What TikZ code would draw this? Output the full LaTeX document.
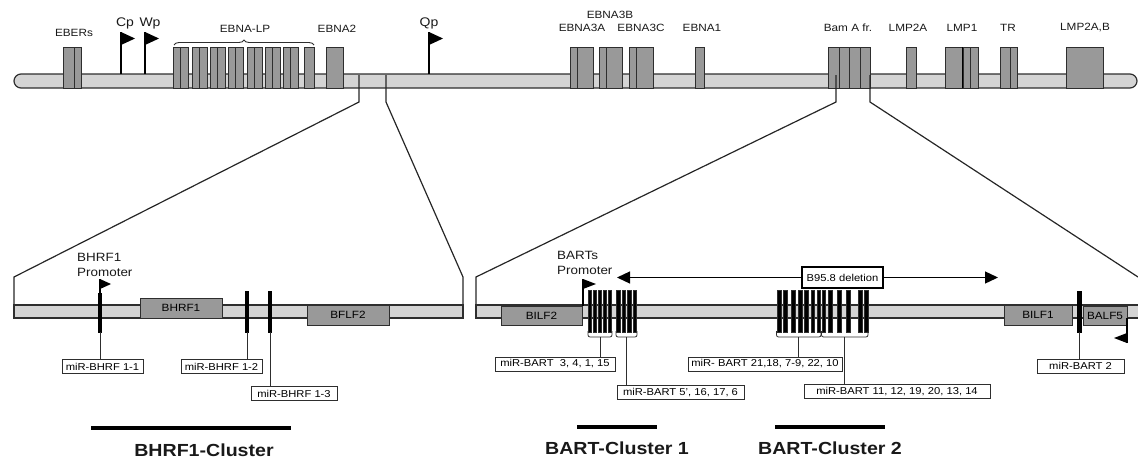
\documentclass[tikz,border=0pt]{standalone}
\usepackage{fontspec}
\setmainfont{Liberation Sans}[FakeStretch=1.12]
\usetikzlibrary{arrows.meta, decorations.pathreplacing}
\definecolor{edgegray}{gray}{0.18}
\definecolor{barfill}{gray}{0.83}
\definecolor{genefill}{gray}{0.6}
\tikzset{
  chrom/.style    = {draw=edgegray, fill=barfill, line width=1.2pt},
  gene/.style     = {draw=edgegray, fill=genefill, line width=1pt},
  genebox/.style  = {gene, inner sep=0pt, font=\fontsize{10.5}{12}\selectfont},
  toplab/.style   = {font=\fontsize{10.5}{12}\selectfont, inner sep=0pt, text=black!90},
  flaglab/.style  = {font=\fontsize{12.5}{14}\selectfont, inner sep=0pt, text=black!90},
  prolab/.style   = {font=\fontsize{12}{15}\selectfont, align=left, anchor=west,
                     inner sep=0pt, text=black!90},
  zoomln/.style   = {draw=black!85, line width=1.2pt},
  flagpole/.style = {draw=black, line width=1.1pt},
  mirna/.style    = {fill=black, draw=black, inner sep=0pt, minimum width=3pt},
  bart/.style     = {fill=black, draw=edgegray, line width=0.4pt},
  stem/.style     = {draw=edgegray, line width=0.8pt},
  bracketln/.style= {draw=edgegray, line width=0.8pt, rounded corners=2pt},
  mirbox/.style   = {draw=edgegray, fill=white, line width=1pt, inner sep=1pt,
                     minimum height=14pt, font=\fontsize{10}{12}\selectfont},
  delbox/.style   = {draw=black, line width=1.4pt, inner sep=2pt, minimum height=21pt,
                     font=\fontsize{10}{12}\selectfont},
  dl/.style       = {-{Triangle[length=13pt, width=12pt]}, line width=1.3pt},
  clus/.style     = {line width=4pt},
  clab/.style     = {font=\fontsize{17.5}{20}\selectfont\bfseries, inner sep=0pt, text=black!90},
}

\begin{document}
\begin{tikzpicture}[x=1pt, y=-1pt]
\useasboundingbox (0,0) rectangle (1138,459);

% genome overview
\draw[chrom, rounded corners=7pt] (14,74) rectangle (1137,88);
\foreach \a/\b in {63/74, 74/81, 304/314, 326/343, 570/577, 577/593, 599/606, 606/622,
    629/636, 636/653, 695/704, 828/839, 839/849, 849/860, 860/870, 906/916,
    945/962, 963/970, 970/978, 1000/1010, 1010/1017, 1066/1103}
  \draw[gene] (\a,47) rectangle (\b,88);
\foreach \s in {173,192,210,228,247,265,283}
  \draw[gene] (\s,47) rectangle (\s+7,88) (\s+7,47) rectangle (\s+15,88);
\draw[line width=1.6pt] (962.5,47) -- (962.5,88);
\draw[edgegray, line width=0.9pt, decorate, decoration={brace, amplitude=5pt}]
  (174,45) -- (314,45);
\foreach \x in {121,145,429} {
  \draw[flagpole] (\x,74) -- (\x,32);
  \fill (\x,32) -- (\x+14,38.5) -- (\x,45) -- cycle;
}
\node[toplab] (leber) at (74,33) {EBERs};
\node[flaglab] (lcp) at (125,23) {Cp};
\node[flaglab] (lwp) at (150,23) {Wp};
\node[toplab] (llp) at (245,29) {EBNA-LP};
\node[toplab] (le2) at (337,29) {EBNA2};
\node[flaglab] (lqp) at (429,23) {Qp};
\node[toplab] (le3b) at (610,15) {EBNA3B};
\node[toplab] (le3a) at (582,28) {EBNA3A};
\node[toplab] (le3c) at (641,28) {EBNA3C};
\node[toplab] (le1) at (702,28) {EBNA1};
\node[toplab] (lbam) at (848,28) {Bam A fr.};
\node[toplab] (llmp2a) at (908,28) {LMP2A};
\node[toplab] (llmp1) at (962,28) {LMP1};
\node[toplab] (ltr) at (1008,28) {TR};
\node[toplab] (llmp2ab) at (1085,28) {LMP2A,B};

% zoom lines
\draw[zoomln] (359,75) -- (359,102) -- (14,277) -- (14,318);
\draw[zoomln] (386,75) -- (386,102) -- (463,277) -- (463,318);
\draw[zoomln] (836,75) -- (836,102) -- (476,277) -- (476,318);
\draw[zoomln] (870,75) -- (870,102) -- (1138,277);

% BHRF1 region
\draw[chrom] (14,305) rectangle (463,318);
\node[genebox, minimum width=82pt, minimum height=20pt] (bhrf1) at (181,308) {BHRF1};
\node[genebox, minimum width=82pt, minimum height=20pt] (bflf2) at (348,315) {BFLF2};
\draw[flagpole] (100,293) -- (100,279);
\fill (100,279) -- (111,284) -- (100,289) -- cycle;
\node[prolab] (bhrfp) at (77,264.5) {BHRF1\\Promoter};
\node[mirna, minimum height=39pt] (r11) at (100,312.5) {};
\node[mirna, minimum height=41pt] (r12) at (247,311.5) {};
\node[mirna, minimum height=41pt] (r13) at (270,311.5) {};
\node[mirbox, minimum width=81pt] (m11) at (102.5,366.5) {miR-BHRF 1-1};
\node[mirbox, minimum width=81pt] (m12) at (221.5,366.5) {miR-BHRF 1-2};
\node[mirbox, minimum width=86pt] (m13) at (294,393.5) {miR-BHRF 1-3};
\draw[stem] (r11.south) -- (r11.south |- m11.north);
\draw[stem] (r12.south) -- (r12.south |- m12.north);
\draw[stem] (r13.south) -- (r13.south |- m13.north);
\draw[clus] (91,428) -- (291,428);
\node[clab] (cl0) at (204,450) {BHRF1-Cluster};

% BART region
\draw[chrom] (476,305) rectangle (1150,318);
\node[genebox, minimum width=81pt, minimum height=19pt] (bilf2) at (541.5,315.5) {BILF2};
\node[genebox, minimum width=68pt, minimum height=20pt] (bilf1) at (1038,315) {BILF1};
\node[genebox, minimum width=44pt, minimum height=19pt] (balf5) at (1105,315.5) {BALF5};
\draw[flagpole] (583,306) -- (583,279);
\fill (583,279) -- (596,284) -- (583,289) -- cycle;
\node[prolab] (bartp) at (557,263) {BARTs\\Promoter};
\node[delbox, minimum width=81pt] (del) at (842.5,277.5) {B95.8 deletion};
\coordinate (dla) at (617,277.5);
\coordinate (dlb) at (998,277.5);
\draw[dl] (del.west) -- (dla);
\draw[dl] (del.east) -- (dlb);
\foreach \x in {589.5,594.5,599.5,604.5,609.5, 618,623.5,629,634.5,
    779,785,793,800,806,812.5,818.5, 823.5,830,839,848,860,866}
  \draw[bart] (\x-1.75,290) rectangle (\x+1.75,332);
\draw[bracketln] (588,331) -- (588,337) -- (612,337) -- (612,331);
\draw[bracketln] (616,331) -- (616,337) -- (637,337) -- (637,331);
\draw[bracketln] (776.5,331) -- (776.5,337) -- (821,337) -- (821,331);
\draw[bracketln] (821.5,331) -- (821.5,337) -- (868,337) -- (868,331);
\coordinate (k1) at (600,337);
\coordinate (k2) at (626.5,337);
\coordinate (k3) at (798.5,337);
\coordinate (k4) at (844.5,337);
\node[mirbox, minimum width=120pt] (b1) at (555,364) {miR-BART~ 3, 4, 1, 15};
\node[mirbox, minimum width=127pt] (b2) at (680.5,392.5) {miR-BART 5', 16, 17, 6};
\node[mirbox, minimum width=154pt] (b3) at (765,364) {miR- BART 21,18, 7-9, 22, 10};
\node[mirbox, minimum width=186pt] (b4) at (897,391.5) {miR-BART 11, 12, 19, 20, 13, 14};
\draw[stem] (k1) -- (k1 |- b1.north);
\draw[stem] (k2) -- (k2 |- b2.north);
\draw[stem] (k3) -- (k3 |- b3.north);
\draw[stem] (k4) -- (k4 |- b4.north);
\node[mirna, minimum width=4.5pt, minimum height=41pt] (r2) at (1079,311.5) {};
\node[mirbox, minimum width=87pt] (b5) at (1080.5,366) {miR-BART 2};
\draw[stem] (r2.south) -- (r2.south |- b5.north);
\draw[flagpole] (1127,318) -- (1127,343);
\fill (1127,333) -- (1114,338) -- (1127,343) -- cycle;
\draw[clus] (577,427) -- (657,427);
\node[clab] (cl1) at (617,448) {BART-Cluster 1};
\draw[clus] (775,427) -- (885,427);
\node[clab] (cl2) at (830,448) {BART-Cluster 2};
\end{tikzpicture}
\end{document}
